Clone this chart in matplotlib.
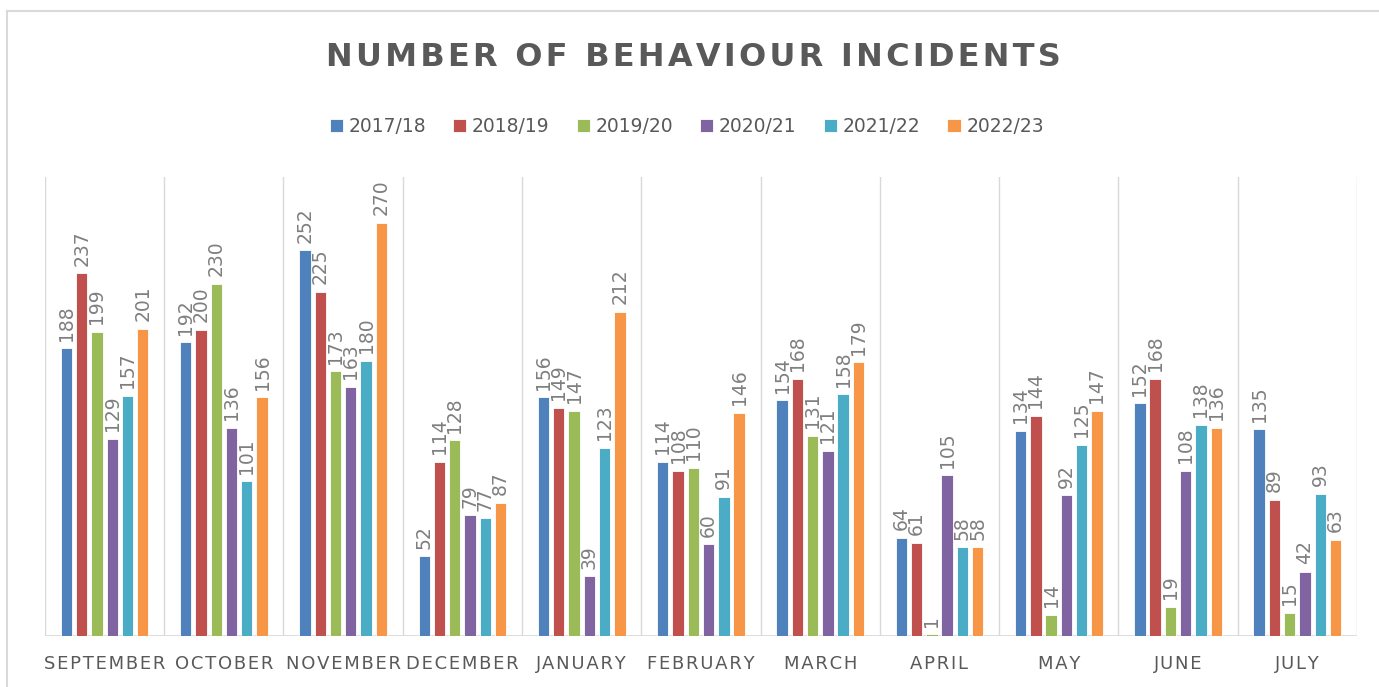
import matplotlib
matplotlib.use("Agg")
import matplotlib.pyplot as plt
import numpy as np
from matplotlib.lines import Line2D

months = ["SEPTEMBER", "OCTOBER", "NOVEMBER", "DECEMBER", "JANUARY", "FEBRUARY",
          "MARCH", "APRIL", "MAY", "JUNE", "JULY"]
series_names = ["2017/18", "2018/19", "2019/20", "2020/21", "2021/22", "2022/23"]
y2017 = [188, 192, 252, 52, 156, 114, 154, 64, 134, 152, 135]
y2018 = [237, 200, 225, 114, 149, 108, 168, 61, 144, 168, 89]
y2019 = [199, 230, 173, 128, 147, 110, 131, 1, 14, 19, 15]
y2020 = [129, 136, 163, 79, 39, 60, 121, 105, 92, 108, 42]
y2021 = [157, 101, 180, 77, 123, 91, 158, 58, 125, 138, 93]
y2022 = [201, 156, 270, 87, 212, 146, 179, 58, 147, 136, 63]
series = [y2017, y2018, y2019, y2020, y2021, y2022]
colors = ["#4F81BD", "#C0504D", "#9BBB59", "#8064A2", "#4BACC6", "#F79646"]

text_color = "#595959"

fig = plt.figure(figsize=(13.79, 6.87), dpi=100)
# chart-area border (left and top visible)
fig.add_artist(Line2D([0.0051, 0.0051], [0.0, 0.9847], transform=fig.transFigure,
                      color="#d9d9d9", linewidth=1.5))
fig.add_artist(Line2D([0.0051, 1.0], [0.9847, 0.9847], transform=fig.transFigure,
                      color="#d9d9d9", linewidth=1.5))

ax = fig.add_axes([0.0326, 0.0742, 0.9514, 0.6681])

n = len(months)
x = np.arange(n)
pitch = 0.128
width = 0.095
for i, (vals, c) in enumerate(zip(series, colors)):
    pos = x + (i - 2.5) * pitch
    ax.bar(pos, vals, width=width, color=c, edgecolor="white", linewidth=0.6,
           label=series_names[i], zorder=3)
    for p, v in zip(pos, vals):
        ax.text(p, v + 5, str(v), rotation=90, ha="center", va="bottom",
                fontsize=13.5, color="#7f7f7f", zorder=4)

ax.set_xlim(-0.5, n - 0.5)
ax.set_ylim(0, 300)
for b in np.arange(-0.5, n, 1.0):
    ax.axvline(b, color="#d9d9d9", linewidth=1, zorder=1)
ax.axhline(0, color="#d9d9d9", linewidth=2, zorder=2)
for s in ax.spines.values():
    s.set_visible(False)
ax.set_yticks([])
ax.set_xticks(x)
spaced = ["\u200a".join(m) for m in months]
ax.set_xticklabels(spaced, fontsize=13, color=text_color)
ax.tick_params(axis="x", length=0, pad=14)

title = "NUMBER OF BEHAVIOUR INCIDENTS"
title_spaced = "\u200a".join(title)
fig.text(0.503, 0.916, title_spaced, ha="center", va="center", fontsize=23,
         fontweight="bold", color=text_color)

fig.legend(loc="center", bbox_to_anchor=(0.498, 0.816), ncol=6, frameon=False,
           fontsize=13.5, handlelength=0.7, handleheight=0.7,
           handletextpad=0.3, columnspacing=1.45, labelcolor=text_color)

fig.savefig("out.png", dpi=100)
